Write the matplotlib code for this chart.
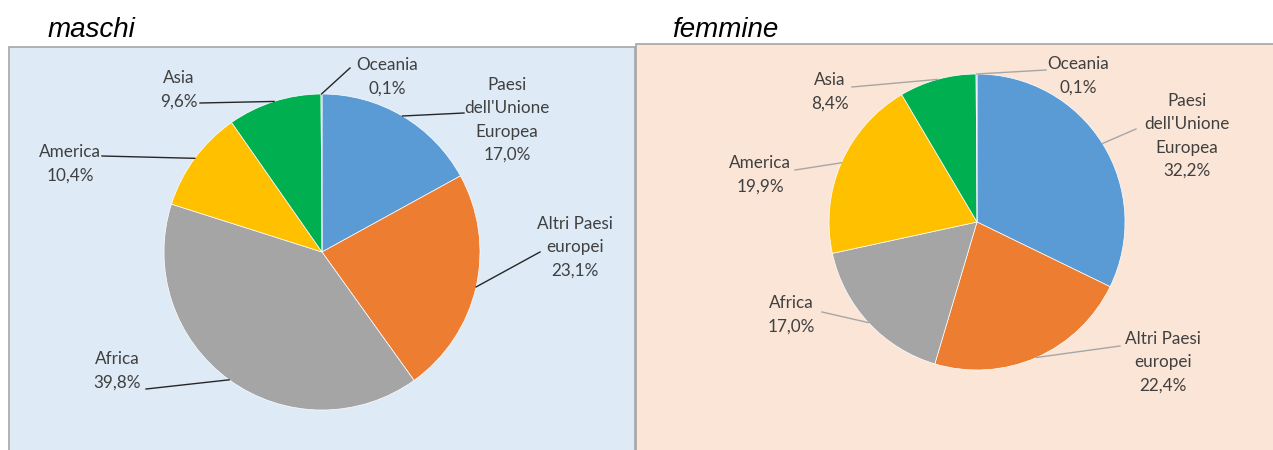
import numpy as np
import matplotlib.pyplot as plt
from matplotlib.patches import Rectangle

# data
categorie = ["Paesi\ndell'Unione\nEuropea", "Altri Paesi\neuropei", "Africa",
             "America", "Asia", "Oceania"]
maschi = [17.0, 23.1, 39.8, 10.4, 9.6, 0.1]
femmine = [32.2, 22.4, 17.0, 19.9, 8.4, 0.1]
colori = ["#5B9BD5", "#ED7D31", "#A5A5A5", "#FFC000", "#00B050", "#4472C4"]

# layout in pixel coords (y down)
pannelli = [
    dict(title="maschi", values=maschi, center=(322, 252), r=158,
         box=(9, 47, 626, 410), bg="#DEEAF6", tpos=(48, 30), lc="#262626",
         labels=[(507, 120), (575, 247), (117, 371), (70, 164), (179, 90), (387, 77)],
         ends=[(464, 113), (540, 252), (146, 389), (102, 156), (200, 103), (350, 68)]),
    dict(title="femmine", values=femmine, center=(977, 222), r=148,
         box=(636, 44, 640, 410), bg="#FBE5D6", tpos=(672, 30), lc="#A6A6A6",
         labels=[(1187, 136), (1163, 362), (791, 315), (760, 175), (830, 92), (1078, 76)],
         ends=[(1136, 129), (1120, 346), (822, 312), (795, 170), (852, 87), (1046, 70)]),
]

fig = plt.figure(figsize=(12.73, 4.5), dpi=100)
ax = fig.add_axes([0, 0, 1, 1])

for p in pannelli:
    bx, by, bw, bh = p["box"]
    ax.add_patch(Rectangle((bx, by), bw, bh, facecolor=p["bg"], edgecolor="#A6A6A6",
                           linewidth=1.2, zorder=0))
    ax.text(p["tpos"][0], p["tpos"][1], p["title"], fontsize=20, style="italic",
            family="Liberation Sans", ha="left", va="center", color="black")

    # inverted y axis: counterclockwise in data = clockwise on screen
    wedges, _ = ax.pie(p["values"], colors=colori, center=p["center"], radius=p["r"],
                       startangle=-90, counterclock=True, frame=True,
                       wedgeprops=dict(edgecolor="white", linewidth=0.5))
    cx, cy = p["center"]
    for w, nome, v, lp, ep in zip(wedges, categorie, p["values"], p["labels"], p["ends"]):
        t = np.deg2rad((w.theta1 + w.theta2) / 2)
        ex, ey = cx + p["r"] * np.cos(t), cy + p["r"] * np.sin(t)
        testo = f"{nome}\n{v:.1f}%".replace(".", ",")
        ax.text(lp[0], lp[1], testo, ha="center", va="center", fontsize=12.3,
                family="Lato", color="#404040", linespacing=1.55)
        if ep is not None:
            ax.plot([ex, ep[0]], [ey, ep[1]], color=p["lc"], linewidth=1.0, zorder=3)

ax.set_xlim(0, 1273)
ax.set_ylim(450, 0)
ax.set_aspect("auto")
ax.axis("off")

fig.savefig("out.png", dpi=100)
